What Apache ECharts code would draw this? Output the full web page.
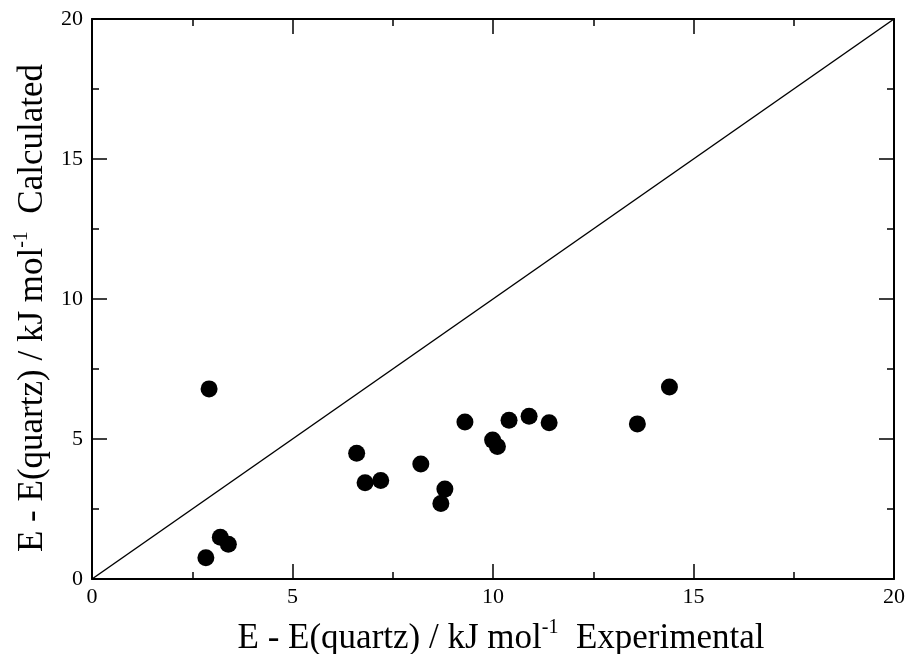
<!DOCTYPE html>
<html><head><meta charset="utf-8">
<script src="https://cdn.jsdelivr.net/npm/echarts@6/dist/echarts.min.js"></script>
<style>html,body{margin:0;padding:0;background:#fff}#c{width:909px;height:654px}</style>
</head><body><div id="c"></div>
<script>
const expX = [2.92, 2.84, 3.20, 3.40, 6.60, 6.81, 7.20, 8.20, 8.80, 8.70, 9.30, 9.99, 10.11, 10.40, 10.90, 11.40, 13.60, 14.40];
const calcY = [6.79, 0.76, 1.49, 1.24, 4.49, 3.44, 3.52, 4.11, 3.21, 2.70, 5.61, 4.96, 4.73, 5.67, 5.81, 5.58, 5.54, 6.86];
const diagX = [0, 20];
const diagY = [0, 20];
const xTitle = ['E - E(quartz) / kJ mol', '-1', '  Experimental'];
const yTitle = ['E - E(quartz) / kJ mol', '-1', '  Calculated'];

const font = 'Liberation Serif';
const rich = {
  n: {fontFamily: font, fontSize: 35, color: '#000'},
  s: {fontFamily: font, fontSize: 20, color: '#000', padding: [0, 0, 22, 0]},
  g: {fontFamily: font, fontSize: 35, color: '#000', width: 18}
};
const mk = t => '{n|' + t[0] + '}{s|' + t[1] + '}{n|' + t[2] + '}';
const axCommon = {
  min: 0, max: 20, interval: 5,
  axisLine: {show: true, onZero: false, lineStyle: {color: '#000', width: 2}},
  axisTick: {show: true, inside: true, length: 15, lineStyle: {color: '#000', width: 1.5}},
  minorTick: {show: true, splitNumber: 2, length: 7, lineStyle: {color: '#000', width: 1.5}},
  splitLine: {show: false}
};
const chart = echarts.init(document.getElementById('c'));
chart.setOption({
  animation: false,
  backgroundColor: '#fff',
  grid: {left: 92, right: 15, top: 19, bottom: 75, containLabel: false, outerBoundsMode: 'none'},
  xAxis: [
    Object.assign({}, axCommon, {type: 'value', position: 'bottom',
      axisLabel: {fontFamily: font, fontSize: 22, color: '#000', margin: 7},
      name: mk(xTitle), nameLocation: 'middle', nameGap: 39,
      nameTextStyle: {rich: rich, padding: [0, 0, 0, 16]}}),
    Object.assign({}, axCommon, {type: 'value', position: 'top', axisLabel: {show: false}})
  ],
  yAxis: [
    Object.assign({}, axCommon, {type: 'value', position: 'left',
      axisLabel: {fontFamily: font, fontSize: 22, color: '#000', margin: 9},
      name: mk(yTitle) + '{g|\u00a0\u00a0}', nameLocation: 'middle', nameGap: 30, nameRotate: 90,
      nameTextStyle: {rich: rich}}),
    Object.assign({}, axCommon, {type: 'value', position: 'right', axisLabel: {show: false}})
  ],
  series: [
    {type: 'line', data: diagX.map((x, i) => [x, diagY[i]]), showSymbol: false, symbol: 'none',
     lineStyle: {color: '#000', width: 1.5}, silent: true},
    {type: 'scatter', data: expX.map((x, i) => [x, calcY[i]]), symbol: 'circle', symbolSize: 17,
     itemStyle: {color: '#000', opacity: 1}}
  ]
});
</script></body></html>
